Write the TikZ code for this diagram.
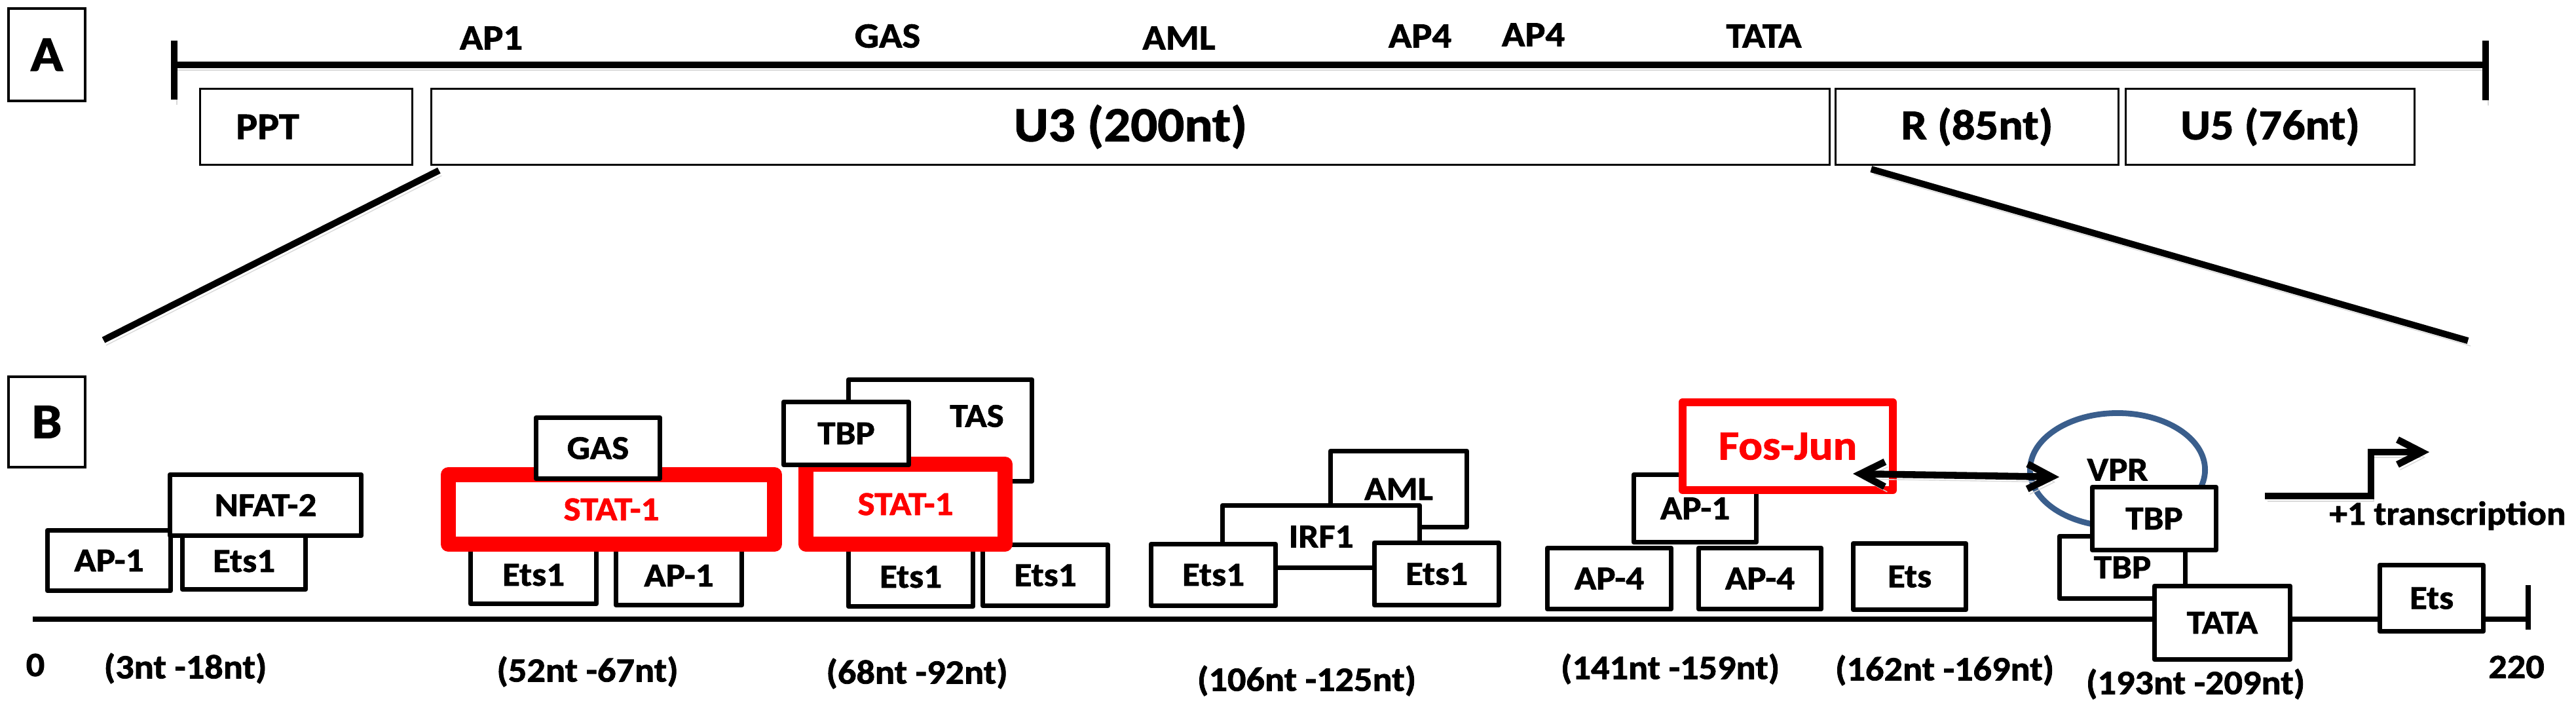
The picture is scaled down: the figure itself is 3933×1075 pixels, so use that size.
\documentclass[tikz,border=0pt]{standalone}
\usepackage{fontspec}
\setmainfont{Carlito}[FakeStretch=1.08, BoldFeatures={FakeBold=1.5}]
\usetikzlibrary{arrows.meta,positioning,shapes.geometric}

\definecolor{vprblue}{RGB}{58,94,140}
\newcommand{\bxfont}{\bfseries\fontsize{14.5}{17}\selectfont}
\newcommand{\rngfont}{\bfseries\fontsize{14.8}{17}\selectfont}

\begin{document}
\begin{tikzpicture}[x=0.01cm, y=-0.01cm,
    panel/.style={draw, line width=1.3pt, inner sep=0pt, font=\bfseries\fontsize{21.6}{24}\selectfont},
    seg/.style={draw, line width=0.9pt, inner sep=0pt, minimum height=1.16cm},
    site/.style={font=\bfseries\fontsize{15.4}{18}\selectfont},
    box/.style={draw, fill=white, line width=2.2pt, line join=round, inner sep=0pt, font=\bxfont},
    redbox/.style={box, draw=red, text=red},
    shadowed/.style={preaction={draw=black!15, transform canvas={shift={(4,8)}}}},
    thickln/.style={line width=2.85pt, shadowed},
    barb/.style={line width=3pt, shadowed, arrows={-Straight Barb[length=0.37cm, width=0.38cm]}},
    rng/.style={font=\rngfont}]
    \useasboundingbox (0,0) rectangle (3933,1075);

    % Panel A: LTR
    \node[panel, minimum width=1.17cm, minimum height=1.41cm] (pa) at (71.5,83.5) {A};
    \coordinate (a0) at (266,99);
    \coordinate (a1) at (3795,99);
    \draw[thickln] (a0) -- (a1);
    \draw[thickln] ([shift={(0,-37)}]a0) -- ([shift={(0,53)}]a0);
    \draw[thickln] ([shift={(0,-37)}]a1) -- ([shift={(0,54)}]a1);

    \node[site] (sap1) at (750,58) {AP1};
    \node[site] (sgas) at (1355,55) {GAS};
    \node[site] (saml) at (1800,58) {AML};
    \node[site] (sap4a) at (2168,55) {AP4};
    \node[site] (sap4b) at (2341,53) {AP4};
    \node[site] (stata) at (2693,55) {TATA};

    \node[seg, minimum width=3.24cm] (ppt) at (467.5,193.5) {};
    \node[font=\bfseries\fontsize{16.3}{19}\selectfont, right=0.44cm of ppt.west] (pptlbl) {PPT};
    \node[seg, minimum width=21.33cm, font=\bfseries\fontsize{21.3}{24}\selectfont] (u3) at (1726,193.5) {U3 (200nt)};
    \node[seg, minimum width=4.32cm, font=\bfseries\fontsize{18.5}{21}\selectfont] (r) at (3018.5,193.5) {R (85nt)};
    \node[seg, minimum width=4.41cm, font=\bfseries\fontsize{18.5}{21}\selectfont] (u5) at (3466,193.5) {U5 (76nt)};

    % zoom lines
    \coordinate (zl) at (158,519);
    \coordinate (zr) at (3768,520);
    \draw[thickln] ([shift={(13,7)}]u3.south west) -- (zl);
    \draw[thickln] ([shift={(56,5)}]r.south west) -- (zr);

    % Panel B: U3 region
    \node[panel, minimum width=1.17cm, minimum height=1.38cm] (pb) at (71.5,644) {B};
    \coordinate (b0) at (50,945);
    \coordinate (b1) at (3860,945);
    \draw[line width=2.4pt] (b0) -- (b1);
    \draw[line width=2.2pt] ([shift={(0,-52)}]b1) -- ([shift={(0,16)}]b1);

    % 3nt-18nt
    \node[box, minimum width=1.88cm, minimum height=0.92cm] (ap1a) at (166.5,855.5) {AP-1};
    \node[box, minimum width=1.88cm, minimum height=0.86cm] (ets1a) at (372.5,856.5) {Ets1};
    \node[box, minimum width=2.92cm, minimum height=0.93cm] (nfat) at (405.5,771) {NFAT-2};

    % 52nt-67nt
    \node[box, minimum width=1.92cm, minimum height=0.88cm] (ets1b) at (814.5,877.5) {Ets1};
    \node[box, minimum width=1.92cm, minimum height=0.90cm] (ap1b) at (1036.5,878.5) {AP-1};
    \node[redbox, line width=6.5pt, minimum width=4.98cm, minimum height=1.06cm] (stat1a) at (933.5,777.5) {STAT-1};
    \node[box, minimum width=1.89cm, minimum height=0.93cm] (gas) at (913,684) {GAS};

    % 68nt-92nt
    \node[box, minimum width=2.80cm, minimum height=1.55cm] (tas) at (1435.5,657) {};
    \node[font=\bxfont] (taslbl) at ([shift={(56,-22)}]tas.center) {TAS};
    \node[box, minimum width=1.90cm, minimum height=0.90cm] (ets1c) at (1390.5,880.5) {Ets1};
    \node[box, minimum width=1.91cm, minimum height=0.93cm] (ets1d) at (1596,878) {Ets1};
    \node[redbox, line width=6.5pt, minimum width=3.04cm, minimum height=1.22cm] (stat1b) at (1382.5,769.5) {STAT-1};
    \node[box, minimum width=1.91cm, minimum height=0.96cm] (tbp1) at (1292,661.5) {TBP};

    % 106nt-125nt
    \node[box, minimum width=2.08cm, minimum height=1.16cm] (aml) at (2135.5,746.5) {AML};
    \node[box, minimum width=3.01cm, minimum height=0.95cm] (irf) at (2017,819) {IRF1};
    \node[box, minimum width=1.90cm, minimum height=0.94cm] (ets1e) at (1852.5,877.5) {Ets1};
    \node[box, minimum width=1.90cm, minimum height=0.95cm] (ets1f) at (2193.5,876) {Ets1};

    % 141nt-169nt
    \node[box, minimum width=1.87cm, minimum height=1.03cm] (ap1c) at (2588,776) {AP-1};
    \node[redbox, line width=3.4pt, minimum width=3.21cm, minimum height=1.34cm, font=\bfseries\fontsize{18}{21}\selectfont] (fosjun) at (2729.5,681) {Fos-Jun};
    \node[box, minimum width=1.89cm, minimum height=0.93cm] (ap4a) at (2457,883) {AP-4};
    \node[box, minimum width=1.87cm, minimum height=0.93cm] (ap4b) at (2687,883) {AP-4};
    \node[box, minimum width=1.72cm, minimum height=1.01cm] (etsa) at (2915.5,880) {Ets};

    % 193nt-209nt
    \node[ellipse, draw=vprblue, line width=2.5pt, inner sep=0pt, minimum width=2.67cm, minimum height=1.73cm, font=\bxfont] (vpr) at (3233,717) {VPR};
    \node[box, minimum width=1.92cm, minimum height=0.95cm] (tbp2) at (3240.5,866) {TBP};
    \node[box, minimum width=1.89cm, minimum height=0.96cm] (tbp3) at (3289,791.5) {TBP};
    \node[box, minimum width=2.07cm, minimum height=1.12cm] (tata) at (3393,950.5) {TATA};
    \node[box, minimum width=1.58cm, minimum height=1.01cm] (etsb) at (3712.5,913) {Ets};

    \draw[barb, arrows={Straight Barb[length=0.37cm, width=0.38cm]-Straight Barb[length=0.37cm, width=0.38cm]}]
        ([shift={(-67,42)}]fosjun.east) -- ([shift={(49,11)}]vpr.west);

    % transcription start
    \coordinate (txs) at (3458,757);
    \coordinate (txe) at (3709,690);
    \draw[barb] (txs) -- ++(162,0) |- (txe);
    \node[font=\bxfont] (txlbl) at (3737,787) {+1 transcription};

    % positions
    \node[rng] (n0) at (54,1015) {0};
    \node[rng] (r1) at (283,1020) {(3nt -18nt)};
    \node[rng] (r2) at (897,1025) {(52nt -67nt)};
    \node[rng] (r3) at (1400,1028) {(68nt -92nt)};
    \node[rng] (r4) at (1995,1039) {(106nt -125nt)};
    \node[rng] (r5) at (2550,1021) {(141nt -159nt)};
    \node[rng] (r6) at (2969,1023) {(162nt -169nt)};
    \node[rng] (r7) at (3352,1044) {(193nt -209nt)};
    \node[rng] (n220) at (3842,1018) {220};
\end{tikzpicture}
\end{document}
